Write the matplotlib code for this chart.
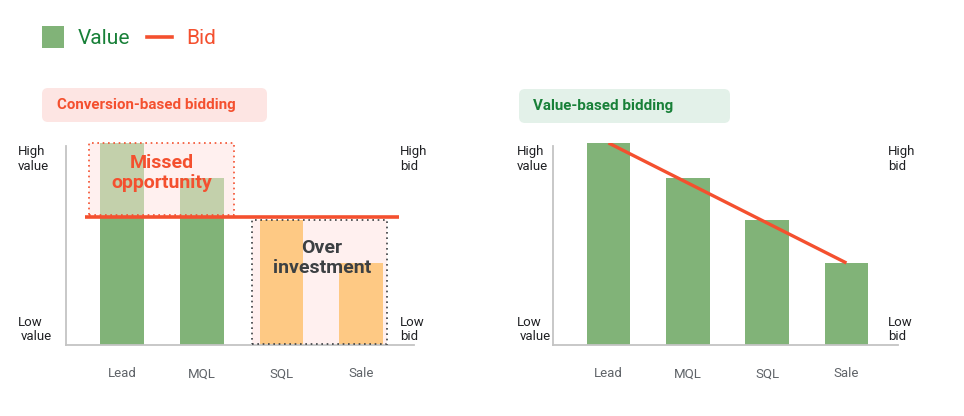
import matplotlib
matplotlib.use("Agg")
import matplotlib.pyplot as plt
from matplotlib.patches import Rectangle, FancyBboxPatch
from matplotlib.lines import Line2D
from matplotlib.transforms import IdentityTransform

# ---- data ----
categories = ["Lead", "MQL", "SQL", "Sale"]
values = [100, 82.7, 61.9, 40.6]          # relative value of each stage
bid_conversion = 63.4                      # flat bid (conversion-based)
bid_value = [100, 80.2, 60.4, 40.6]        # bid following value (value-based)
missed_stages = ["Lead", "MQL"]
over_stages = ["SQL", "Sale"]

# ---- style ----
GREEN = "#81b378"
LIGHT_GREEN = "#c3d0ab"
ORANGE = "#fec984"
RED = "#f4502f"
PINK_FILL = "#fff0ef"
GREEN_TEXT = "#188038"
AXIS_GRAY = "#c4c4c4"
TICK_GRAY = "#5f6368"
FONT = "Roboto"

W, H = 964, 416
fig = plt.figure(figsize=(W / 100, H / 100), dpi=100)
plt.rcParams["font.family"] = [FONT, "DejaVu Sans"]


def fx(x):
    return x / W


def fy(y):
    return 1 - y / H


def make_axes(left_px, right_px, xmax):
    ax = fig.add_axes([fx(left_px), fy(345), (right_px - left_px) / W, 202 / H])
    ax.set_xlim(-0.70, xmax)
    ax.set_ylim(0, 100)
    for s in ["top", "right"]:
        ax.spines[s].set_visible(False)
    for s in ["left", "bottom"]:
        ax.spines[s].set_color(AXIS_GRAY)
        ax.spines[s].set_linewidth(1.3)
    ax.spines["left"].set_bounds(0, 98.5)
    ax.set_yticks([])
    ax.set_xticks(range(len(categories)))
    ax.set_xticklabels(categories, fontsize=9.5, color=TICK_GRAY)
    ax.tick_params(axis="x", length=0, pad=16)
    ax.set_facecolor("none")
    return ax


x = list(range(len(categories)))
bw = 0.55

# ---------------- left panel: conversion-based ----------------
axl = make_axes(66, 414, 3.66)
# missed-opportunity box
mi = [categories.index(c) for c in missed_stages]
mx0 = min(mi) - bw / 2 - 0.14
mx1 = max(mi) + bw / 2 + 0.13
mtop = max(values[i] for i in mi)
axl.add_patch(Rectangle((mx0, bid_conversion), mx1 - mx0, mtop - bid_conversion,
                        facecolor=PINK_FILL, edgecolor="none", zorder=1, clip_on=False))
axl.add_patch(Rectangle((mx0, bid_conversion + 0.8), mx1 - mx0, mtop - bid_conversion - 0.8,
                        facecolor="none", edgecolor=RED, linestyle=(0, (1, 2.2)),
                        linewidth=1.2, zorder=5, clip_on=False))
# over-investment box
oi = [categories.index(c) for c in over_stages]
ox0 = min(oi) - bw / 2 - 0.10
ox1 = max(oi) + bw / 2 + 0.05
otop = max(values[i] for i in oi)
axl.add_patch(Rectangle((ox0, 0.5), ox1 - ox0, otop - 0.5,
                        facecolor=PINK_FILL, edgecolor="none", zorder=1))
axl.add_patch(Rectangle((ox0, 0.5), ox1 - ox0, otop - 0.5,
                        facecolor="none", edgecolor="#3c4043", linestyle=(0, (1, 2.2)),
                        linewidth=1.2, zorder=5))

for i, (c, v) in enumerate(zip(categories, values)):
    if c in missed_stages:
        axl.bar(i, min(v, bid_conversion), width=bw, color=GREEN, zorder=2)
        axl.bar(i, v - bid_conversion, bottom=bid_conversion, width=bw, color=LIGHT_GREEN, zorder=2)
    else:
        axl.bar(i, v, width=bw, color=ORANGE, zorder=2)

axl.axhline(bid_conversion, xmin=(85 - 66) / 348, xmax=(399 - 66) / 348,
            color=RED, linewidth=2.6, zorder=6, solid_capstyle="butt")

axl.text((mx0 + mx1) / 2, 85, "Missed\nopportunity", ha="center", va="center",
         fontsize=14, fontweight="bold", color=RED, linespacing=1.15, zorder=7)
axl.text((ox0 + ox1) / 2 + 0.03, 43, "Over\ninvestment", ha="center", va="center",
         fontsize=14, fontweight="bold", color="#3c4043", linespacing=1.15, zorder=7)

# ---------------- right panel: value-based ----------------
axr = make_axes(553, 898, 3.65)
axr.bar(x, values, width=bw, color=GREEN, zorder=2)
axr.plot(x, bid_value, color=RED, linewidth=2.4, zorder=6, solid_capstyle="butt")

# ---------------- axis annotations ----------------
ann_kw = dict(fontsize=9.5, color="#202124", va="center", ha="left")
for xl, xr in [(18, 400), (517, 888)]:
    fig.text(fx(xl), fy(152), "High", **ann_kw)
    fig.text(fx(xl), fy(167), "value", **ann_kw)
    fig.text(fx(xl), fy(322), "Low", **ann_kw)
    fig.text(fx(xl + 3), fy(337), "value", **ann_kw)
    fig.text(fx(xr), fy(152), "High", **ann_kw)
    fig.text(fx(xr), fy(167), "bid", **ann_kw)
    fig.text(fx(xr), fy(322), "Low", **ann_kw)
    fig.text(fx(xr), fy(337), "bid", **ann_kw)

# ---------------- title boxes ----------------
def title_box(x0, y0, x1, y1, face, text, tcolor, tx):
    box = FancyBboxPatch((x0, H - y1), x1 - x0, y1 - y0,
                         boxstyle="round,pad=0,rounding_size=6",
                         transform=IdentityTransform(), facecolor=face,
                         edgecolor="none", zorder=0)
    fig.patches.append(box)
    fig.text(fx(tx), fy((y0 + y1) / 2), text, ha="left", va="center",
             fontsize=10.9, fontweight="bold", color=tcolor)


title_box(42, 88, 267, 122, "#fde5e3", "Conversion-based bidding", RED, 57)
title_box(519, 89, 730, 123, "#e3f1e9", "Value-based bidding", GREEN_TEXT, 533)

# ---------------- legend ----------------
fig.patches.append(Rectangle((42, H - 48), 22, 22, transform=IdentityTransform(),
                             facecolor=GREEN, edgecolor="none"))
fig.text(fx(78), fy(38), "Value", fontsize=15, color=GREEN_TEXT, ha="left", va="center")
fig.lines.append(Line2D([147, 172], [H - 37, H - 37], transform=IdentityTransform(),
                        color=RED, linewidth=2.6))
fig.text(fx(186), fy(38), "Bid", fontsize=15, color=RED, ha="left", va="center")

fig.savefig("out.png", dpi=100)
